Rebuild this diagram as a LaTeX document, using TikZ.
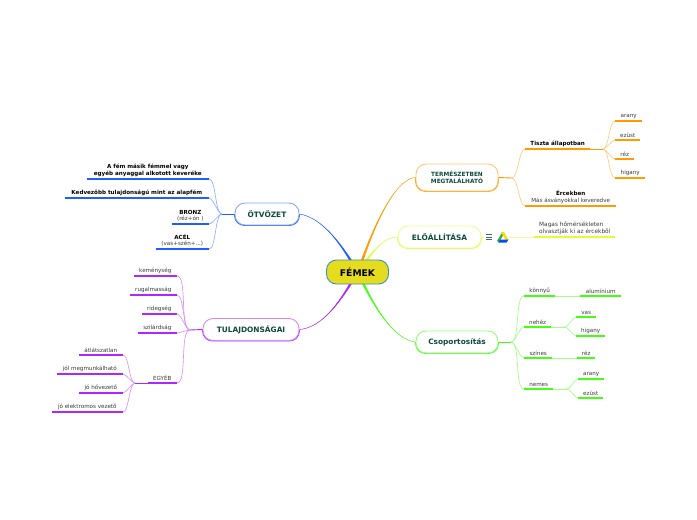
\documentclass[tikz,border=0pt]{standalone}
\usepackage{fontspec}
\setmainfont{DejaVu Sans}
\usetikzlibrary{calc,backgrounds}
\definecolor{ink}{HTML}{0F4A3C}
\definecolor{txt}{HTML}{3A3A3A}
\definecolor{blu}{HTML}{1F5FFF}
\definecolor{pur}{HTML}{B026FF}
\definecolor{org}{HTML}{FF9A00}
\definecolor{ylw}{HTML}{DDFF33}
\definecolor{grn}{HTML}{44FF11}
\definecolor{rootF}{HTML}{E6DC1E}
\definecolor{rootD}{HTML}{3A8FC8}
\tikzset{
  root/.style ={draw=rootD, fill=rootF, rounded corners=10pt, line width=.9pt, inner sep=0pt,
                font=\fontsize{9.2}{11}\selectfont\bfseries, minimum width=62pt, minimum height=24pt},
  topic/.style={draw=#1!55, fill=white, rounded corners=10pt, line width=.9pt, inner sep=0pt, align=center,
                text=ink, font=\fontsize{7.4}{9}\selectfont\bfseries, minimum height=22pt,
                append after command={\pgfextra{\draw[#1,line width=.9pt,rounded corners=10pt]
                  (\tikzlastnode.west) |- (\tikzlastnode.south) -| (\tikzlastnode.east);}}},
  leaf/.style ={inner xsep=0pt, inner ysep=2.4pt, align=center, text=txt, anchor=south east,
                font=\fontsize{5.6}{6.5}\selectfont,
                append after command={\pgfextra{\draw[#1,line width=1.1pt]
                  (\tikzlastnode.south west) -- (\tikzlastnode.south east);}}},
  leafr/.style={leaf=#1, anchor=south west},
  twig/.style ={draw=#1!50, line width=.65pt, looseness=.5},
  stem/.style ={draw=#1, line width=.9pt},
}
\newcommand{\hd}[1]{{\fontsize{5.6}{6.5}\selectfont\bfseries\color{black}#1}}
\newcommand{\trunk}[5]{\draw[#1,fill=#1,line width=.4pt] (#2) .. controls (#3) and (#4) .. ($(#5)+(-1.1,0)$) -- ($(#5)+(1.1,0)$) .. controls (#4) and (#3) .. (#2) -- cycle;}
\begin{document}
\begin{tikzpicture}[x=1pt,y=-1pt]
  \useasboundingbox (0,0) rectangle (697,520);

  % main nodes
  \node[root] (fe) at (357.5,272) {FÉMEK};
  \node[topic=blu, minimum width=64pt] (ot) at (267,214) {ÖTVÖZET};
  \node[topic=pur, minimum width=96pt] (tu) at (251,329.5) {TULAJDONSÁGAI};
  \node[topic=org, minimum width=82pt, minimum height=27pt, font=\fontsize{5.8}{6.4}\selectfont\bfseries] (te) at (457,177.5) {TERMÉSZETBEN\\MEGTALÁLHATÓ};
  \node[topic=ylw, minimum width=83pt] (el) at (439.5,237) {ELŐÁLLÍTÁSA};
  \node[topic=grn, minimum width=82pt] (cs) at (457,342) {Csoportosítás};

  \coordinate (feb) at (351,261);
  \coordinate (fep) at (351,283);
  \coordinate (feo) at (362,261);
  \coordinate (fey) at (366,261);
  \coordinate (feg) at (363,283);
  \coordinate (otj) at (222,214);
  \coordinate (tuj) at (190,330);
  \coordinate (egj) at (135,383);
  \coordinate (tej) at (512,178);
  \coordinate (tsj) at (603,149);
  \coordinate (csj) at (511,342);
  \coordinate (nhj) at (565,327);
  \coordinate (nmj) at (567,389);

  % leaves
  \node[leaf=blu, minimum width=122pt] (ot1) at (209,179) {\hd{A fém másik fémmel vagy}\\\hd{egyéb anyaggal alkotott keveréke}};
  \node[leaf=blu, minimum width=144pt] (ot2) at (209,198) {\hd{Kedvezőbb tulajdonságú mint az alapfém}};
  \node[leaf=blu, minimum width=37pt] (ot3) at (209,224) {\hd{BRONZ}\\(réz+ón )};
  \node[leaf=blu, minimum width=53pt] (ot4) at (209,249) {\hd{ACÉL}\\(vas+szén+...)};

  \node[leaf=pur, minimum width=43pt] (tu1) at (177,276) {keménység};
  \node[leaf=pur, minimum width=47pt] (tu2) at (177,295) {rugalmasság};
  \node[leaf=pur, minimum width=35pt] (tu3) at (177,314) {ridegség};
  \node[leaf=pur, minimum width=39pt] (tu4) at (177,333) {szilárdság};
  \node[leaf=pur, minimum width=29pt] (tu5) at (177,383) {EGYÉB};
  \node[leaf=pur, minimum width=44pt] (eg1) at (123,355) {átlátszatlan};
  \node[leaf=pur, minimum width=66pt] (eg2) at (123,374) {jól megmunkálható};
  \node[leaf=pur, minimum width=44pt] (eg3) at (123,393) {jó hővezető};
  \node[leaf=pur, minimum width=71pt] (eg4) at (123,412) {jó elektromos vezető};

  \node[leafr=org, minimum width=65pt] (te1) at (525,149) {\hd{Tiszta állapotban}};
  \node[leafr=org, minimum width=91pt] (te2) at (525,206) {\hd{Ércekben}\\Más ásványokkal keveredve};
  \node[leafr=org, minimum width=27pt] (ts1) at (615,121) {arany};
  \node[leafr=org, minimum width=25pt] (ts2) at (615,140) {ezüst};
  \node[leafr=org, minimum width=19pt] (ts3) at (615,159) {réz};
  \node[leafr=org, minimum width=30pt] (ts4) at (615,178) {higany};

  \node[leafr=ylw, text width=71pt, inner xsep=5pt, align=left, font=\fontsize{5.8}{7}\selectfont] (el1) at (534,237) {\mbox{Magas hőmérsékleten}\\\mbox{olvasztják ki az ércekből}};

  \node[leafr=grn, minimum width=31pt] (cs1) at (524,296) {könnyű};
  \node[leafr=grn, minimum width=27pt] (cs2) at (524,327) {nehéz};
  \node[leafr=grn, minimum width=28pt] (cs3) at (524,358) {színes};
  \node[leafr=grn, minimum width=29pt] (cs4) at (524,389) {nemes};
  \node[leafr=grn, minimum width=41pt] (kn1) at (580,296) {alumínium};
  \node[leafr=grn, minimum width=20pt] (nh1) at (576,317) {vas};
  \node[leafr=grn, minimum width=29pt] (nh2) at (576,336) {higany};
  \node[leafr=grn, minimum width=18pt] (sz1) at (577,358) {réz};
  \node[leafr=grn, minimum width=26pt] (nm1) at (578,379) {arany};
  \node[leafr=grn, minimum width=25pt] (nm2) at (578,398) {ezüst};

  % connectors
  \begin{scope}[on background layer]
    \fill[white] (0,0) rectangle (697,520);
    \trunk{blu}{ot.east}{318,217}{335,235}{feb}
    \trunk{pur}{tu.east}{318,328}{335,310}{fep}
    \trunk{org}{te.west}{398,178}{378,215}{feo}
    \trunk{ylw}{el.west}{385,237}{376,248}{fey}
    \trunk{grn}{cs.west}{398,340}{380,318}{feg}

    \draw[stem=blu] (ot.west) -- (otj);
    \draw[stem=pur] (tu.west) -- (tuj);
    \draw[stem=pur] (tu5.south west) -- (egj);
    \draw[stem=org] (te.east) -- (tej);
    \draw[stem=org] (te1.south east) -- (tsj);
    \draw[stem=grn] (cs.east) -- (csj);
    \draw[twig=ylw] (el.east) -- (el1.south west);
    \draw[twig=grn] (cs1.south east) -- (kn1.south west);
    \draw[twig=grn] (cs2.south east) -- (nhj);
    \draw[twig=grn] (cs3.south east) -- (sz1.south west);
    \draw[twig=grn] (cs4.south east) -- (nmj);

    \foreach \n in {ot1,ot2,ot3,ot4} \draw[twig=blu] (\n.south east) to[out=0,in=180] (otj);
    \foreach \n in {tu1,tu2,tu3,tu4,tu5} \draw[twig=pur] (\n.south east) to[out=0,in=180] (tuj);
    \foreach \n in {eg1,eg2,eg3,eg4} \draw[twig=pur] (\n.south east) to[out=0,in=180] (egj);
    \foreach \n in {te1,te2} \draw[twig=org] (\n.south west) to[out=180,in=0] (tej);
    \foreach \n in {ts1,ts2,ts3,ts4} \draw[twig=org] (\n.south west) to[out=180,in=0] (tsj);
    \foreach \n in {cs1,cs2,cs3,cs4} \draw[twig=grn] (\n.south west) to[out=180,in=0] (csj);
    \foreach \n in {nh1,nh2} \draw[twig=grn] (\n.south west) to[out=180,in=0] (nhj);
    \foreach \n in {nm1,nm2} \draw[twig=grn] (\n.south west) to[out=180,in=0] (nmj);
  \end{scope}

  % note and link icons
  \fill[white] (484,231) rectangle (509,243);
  \foreach \y in {234.5,237,239.5} \draw[ink!80,line width=.7pt] (486,\y) -- (492,\y);
  \fill[green!60!black!80] (502.5,232) -- (497,241) -- (499,242.5) -- (504,233.5) -- cycle;
  \fill[yellow!80!orange] (501,232) -- (504,232) -- (508.5,240) -- (505.5,240) -- cycle;
  \fill[blue!70!cyan] (500,239.5) -- (508.5,239.5) -- (506.5,242.5) -- (498.5,242.5) -- cycle;
\end{tikzpicture}
\end{document}
